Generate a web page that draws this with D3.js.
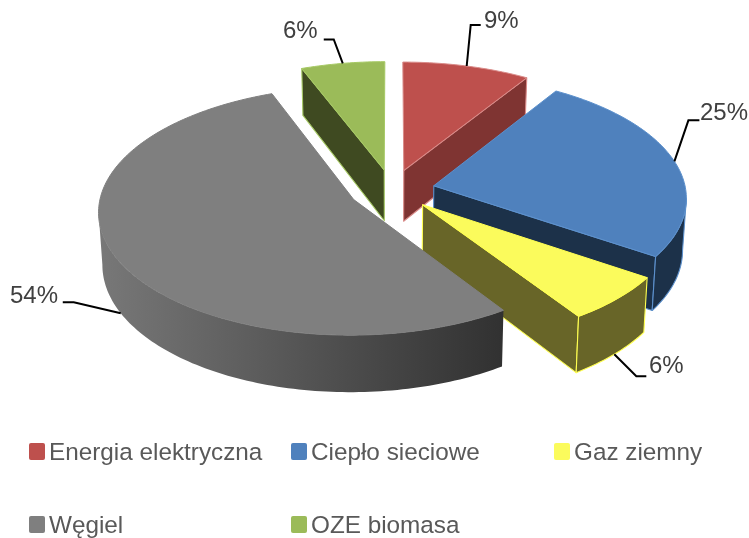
<!DOCTYPE html>
<html>
<head>
<meta charset="utf-8">
<script src="https://cdn.jsdelivr.net/npm/d3@7"></script>
<style>
html, body { margin: 0; padding: 0; background: #fff; }
svg { display: block; filter: blur(0.45px); }
text { font-family: "Liberation Sans", Arial, sans-serif; }
</style>
</head>
<body>
<svg id="viz"></svg>
<script>
var width = 749;
var height = 538;

// data
var categories = ["Energia elektryczna", "Ciepło sieciowe", "Gaz ziemny", "Węgiel", "OZE biomasa"];
var values = [9, 25.4, 6.2, 53.5, 5.9];

var topColors = ["#BE504D", "#4F81BD", "#FBFB5C", "#7F7F7F", "#9BBB59"];
var wallColors = ["#7F3432", "#1C3149", "#686528", "#4a4a4a", "#3F4A21"];
var strokeColors = ["#D98B89", "#5C90CC", "#FFFF50", "#7F7F7F", "#A6C964"];

// back to front
var drawOrder = [4, 0, 1, 2, 3];

// leader: whether it starts on the lower rim, elbow dx/dy, end dx
var leaders = [
    { low: 0, ex: 4, ey: -41, end: 10 },
    { low: 0, ex: 14, ey: -41, end: 11 },
    { low: 1, ex: 22, ey: 22, end: 10 },
    { low: 1, ex: -47, ey: -11, end: -11 },
    { low: 0, ex: -9, ey: -24, end: -10 }
];
var labelPos = [[484, 29], [700, 121], [649, 374], [10, 304], [283, 39]];

var legendCols = [29, 291, 554];
var legendRows = [443, 516];

var svg = d3.select("#viz").attr("width", width).attr("height", height);

// projection of the tilted pie, a bit of perspective
var cx = 392, cy = 190, A = 252, B = 121.5, persp = 0.09, depth = 51.5, explode = 0.17;

function project(u, v, z) {
    var s = 1 / (1 - persp * v);
    return [cx + A * u * s * (1 - 0.013 * z), cy + B * v * s + depth * s * z];
}

var pie = d3.pie().sort(null)(values);

function rimPoint(d, theta, z) {
    var mid = (d.startAngle + d.endAngle) / 2;
    return project(explode * Math.sin(mid) + Math.sin(theta), -explode * Math.cos(mid) - Math.cos(theta), z);
}
function apexPoint(d, z) {
    var mid = (d.startAngle + d.endAngle) / 2;
    return project(explode * Math.sin(mid), -explode * Math.cos(mid), z);
}
function arcPoints(d, a, b, z) {
    var n = Math.ceil((b - a) / 0.02);
    return d3.range(n + 1).map(function (i) {
        return rimPoint(d, a + (b - a) * i / n, z);
    });
}

// angles where the rim of a slice reaches furthest right and furthest left
function sideAngles(d) {
    var thetas = d3.range(0, 2 * Math.PI, 0.005);
    return [
        thetas[d3.greatestIndex(thetas, function (t) { return rimPoint(d, t, 0)[0]; })],
        thetas[d3.leastIndex(thetas, function (t) { return rimPoint(d, t, 0)[0]; })]
    ];
}

var line = d3.line();

var defs = svg.append("defs");
var grad = defs.append("linearGradient").attr("id", "coalWall");
grad.append("stop").attr("offset", "0%").attr("stop-color", "#787878");
grad.append("stop").attr("offset", "100%").attr("stop-color", "#313131");

var pieG = svg.append("g");

drawOrder.forEach(function (i) {
    var d = pie[i];
    var g = pieG.append("g");
    var wallStyle = function (sel) {
        return sel.attr("fill", wallColors[i])
            .attr("stroke", strokeColors[i])
            .attr("stroke-width", 1.1)
            .attr("stroke-linejoin", "round");
    };

    // radial walls, only those turned to the viewer
    [d.startAngle, d.endAngle].forEach(function (a, k) {
        var facing = k === 0 ? Math.sin(a) < -1e-6 : Math.sin(a) > 1e-6;
        if (!facing) return;
        var pts = [apexPoint(d, 0), rimPoint(d, a, 0), rimPoint(d, a, 1), apexPoint(d, 1)];
        g.append("path").attr("d", line(pts) + "Z").call(wallStyle);
    });

    // outer wall, between the two side points of the rim
    var sides = sideAngles(d);
    var a0 = Math.max(d.startAngle, sides[0]);
    var a1 = Math.min(d.endAngle, sides[1]);
    if (a1 > a0) {
        var pts = arcPoints(d, a0, a1, 0).concat(arcPoints(d, a0, a1, 1).reverse());
        var wall = g.append("path").attr("d", line(pts) + "Z").call(wallStyle);
        if (i === 3) {
            wall.attr("fill", "url(#coalWall)").attr("stroke", "none");
        }
    }

    // top face
    var face = [apexPoint(d, 0)].concat(arcPoints(d, d.startAngle, d.endAngle, 0));
    g.append("path")
        .attr("d", line(face) + "Z")
        .attr("fill", topColors[i])
        .attr("stroke", strokeColors[i])
        .attr("stroke-width", 1)
        .attr("stroke-linejoin", "round");
});

// leader lines and percent labels
pie.forEach(function (d, i) {
    var l = leaders[i];
    var mid = (d.startAngle + d.endAngle) / 2;
    var p = rimPoint(d, mid, l.low);
    var elbow = [p[0] + l.ex, p[1] + l.ey];
    svg.append("path")
        .attr("d", line([p, elbow, [elbow[0] + l.end, elbow[1]]]))
        .attr("fill", "none")
        .attr("stroke", "#000")
        .attr("stroke-width", 2);
    svg.append("text")
        .attr("x", labelPos[i][0])
        .attr("y", labelPos[i][1] - 1)
        .attr("font-size", 24)
        .attr("fill", "#404040")
        .text(Math.round(d.data) + "%");
});

// legend
var legendRowIdx = [0, 0, 0, 1, 1];
var legendColIdx = [0, 1, 2, 0, 1];
var legend = svg.append("g").selectAll("g").data(categories).enter().append("g");
legend.append("rect")
    .attr("x", function (d, i) { return legendCols[legendColIdx[i]]; })
    .attr("y", function (d, i) { return legendRows[legendRowIdx[i]]; })
    .attr("width", 16)
    .attr("height", 17)
    .attr("rx", 2)
    .attr("fill", function (d, i) { return topColors[i]; });
legend.append("text")
    .attr("x", function (d, i) { return legendCols[legendColIdx[i]] + 20; })
    .attr("y", function (d, i) { return legendRows[legendRowIdx[i]] + 17; })
    .attr("font-size", 24.3)
    .attr("fill", "#595959")
    .text(function (d) { return d; });
</script>
</body>
</html>
